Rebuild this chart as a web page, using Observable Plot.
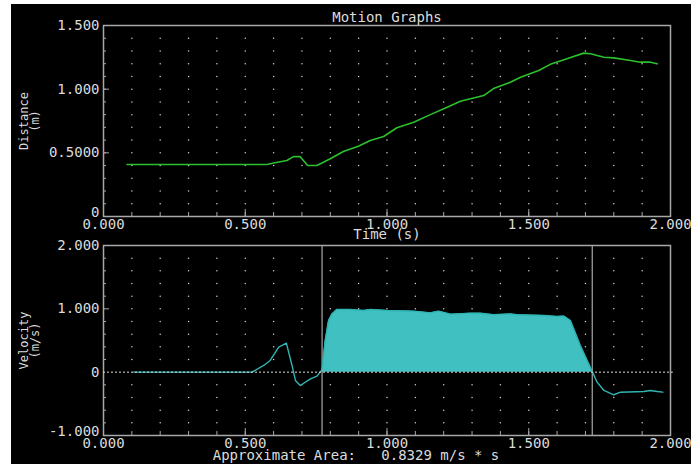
<!DOCTYPE html>
<html>
<head>
<meta charset="utf-8">
<script src="https://cdn.jsdelivr.net/npm/d3@7"></script>
<script src="https://cdn.jsdelivr.net/npm/@observablehq/plot@0.6"></script>
<style>
  body { margin: 0; background: #fff; }
  #wrap { position: relative; width: 691px; height: 464px; background: #fff; overflow: hidden; }
  #bg { position: absolute; left: 11px; top: 4px; width: 680px; height: 460px; background: #000; }
  #top, #bottom { position: absolute; left: 0; }
  #top { top: 0; }
  #bottom { top: 240px; }
</style>
</head>
<body>
<div id="wrap">
  <div id="bg"></div>
  <div id="top"></div>
  <div id="bottom"></div>
</div>
<script>
// ---- data ----
const distTime  = [0.083, 0.577, 0.600, 0.647, 0.670, 0.694, 0.720, 0.753, 0.800, 0.846, 0.899, 0.941, 0.988, 1.035, 1.094, 1.153, 1.212, 1.259, 1.341, 1.376, 1.435, 1.471, 1.535, 1.576, 1.635, 1.694, 1.718, 1.765, 1.800, 1.859, 1.894, 1.929, 1.953];
const distValue = [0.408, 0.408, 0.420, 0.440, 0.470, 0.470, 0.400, 0.400, 0.453, 0.510, 0.552, 0.597, 0.628, 0.697, 0.740, 0.800, 0.858, 0.905, 0.950, 1.005, 1.055, 1.094, 1.147, 1.195, 1.238, 1.283, 1.278, 1.251, 1.246, 1.225, 1.212, 1.212, 1.199];

const velTime  = [0.105, 0.524, 0.565, 0.588, 0.618, 0.645, 0.665, 0.677, 0.694, 0.730, 0.753, 0.771, 0.782, 0.794, 0.806, 0.823, 0.870, 0.918, 0.941, 1.000, 1.094, 1.153, 1.182, 1.224, 1.247, 1.294, 1.330, 1.376, 1.435, 1.459, 1.553, 1.600, 1.624, 1.647, 1.682, 1.724, 1.741, 1.765, 1.800, 1.824, 1.906, 1.929, 1.953, 1.973];
const velValue = [0, 0, 0.106, 0.185, 0.395, 0.458, 0.106, -0.131, -0.210, -0.105, -0.063, 0.040, 0.500, 0.816, 0.920, 0.990, 0.990, 0.974, 0.990, 0.974, 0.963, 0.937, 0.963, 0.916, 0.920, 0.932, 0.930, 0.906, 0.920, 0.906, 0.895, 0.879, 0.885, 0.816, 0.420, 0.010, -0.158, -0.289, -0.357, -0.316, -0.305, -0.289, -0.305, -0.316];

const areaStart = 0.771;
const areaEnd = 1.724;
const areaText = "Approximate Area:   0.8329 m/s * s";

const xTicks = [0, 0.5, 1, 1.5, 2];
const xTickLabels = ["0.000", "0.500", "1.000", "1.500", "2.000"];
const distTicks = [0, 0.5, 1, 1.5];
const distTickLabels = ["0", "0.5000", "1.000", "1.500"];
const velTicks = [-1, 0, 1, 2];
const velTickLabels = ["-1.000", "0", "1.000", "2.000"];

const title = "Motion Graphs";
const xTitle = "Time (s)";
const distTitle = ["Distance", "(m)"];
const velTitle = ["Velocity", "(m/s)"];

// ---- styling ----
const TEXT = "#dcdcdc";
const FRAME = "#a8a8a8";
const GREEN = "#2cc02c";
const TEAL_FILL = "#40c0c0";
const TEAL_LINE = "#30b4b4";
const FONT = "DejaVu Sans Mono";

const W = 691, ML = 103, MR = 21;
const frameW = W - ML - MR;

const dist = distTime.map((t, i) => ({t, v: distValue[i]}));
const vel = velTime.map((t, i) => ({t, v: velValue[i]}));
const velArea = vel.filter(d => d.t >= areaStart && d.t <= areaEnd);

const r1 = (x) => Math.round(x * 10) / 10;
const xMinor = d3.range(1, 20).map(k => r1(k / 10));
const xMajorInner = [0.5, 1, 1.5];

function ticksLayer(yMinor, yMajor, frameH) {
  return [
    Plot.tickX(xMinor, {x: d => d, stroke: FRAME, insetTop: frameH - 4}),
    Plot.tickX(xMajorInner, {x: d => d, stroke: FRAME, insetTop: frameH - 7}),
    Plot.tickY(yMinor, {y: d => d, stroke: FRAME, insetRight: frameW - 3}),
    Plot.tickY(yMajor, {y: d => d, stroke: FRAME, insetRight: frameW - 6})
  ];
}

const txt = (extra) => Object.assign({text: d => d, fill: TEXT, fontFamily: FONT, lineAnchor: "middle", textAnchor: "middle"}, extra);

// ---- top plot ----
const topH = 240, topMT = 25, topMB = 24;
const topFrameH = topH - topMT - topMB;
const dMinor = d3.range(1, 15).map(k => r1(k / 10));
const dGrid = xMinor.flatMap(x => dMinor.map(y => ({x, y})));

const topPlot = Plot.plot({
  width: W, height: topH,
  marginLeft: ML, marginRight: MR, marginTop: topMT, marginBottom: topMB,
  style: {background: "transparent", color: TEXT, fontFamily: FONT, fontSize: "14px", overflow: "visible"},
  x: {domain: [0, 2]},
  y: {domain: [0, 1.5]},
  marks: [
    Plot.dot(dGrid, {x: "x", y: "y", r: 0.75, fill: "#cfcfcf", stroke: null}),
    ...ticksLayer(dMinor, [0.5, 1], topFrameH),
    Plot.frame({stroke: FRAME, strokeWidth: 1.5}),
    Plot.line(dist, {x: "t", y: "v", stroke: GREEN, strokeWidth: 1.6}),
    Plot.axisX(xTicks, {tickSize: 0, tickPadding: 3, tickFormat: d => xTickLabels[xTicks.indexOf(d)], label: null, fill: TEXT}),
    Plot.axisY(distTicks.slice(1), {tickSize: 0, tickPadding: 4, tickFormat: d => distTickLabels[distTicks.indexOf(d)], label: null, fill: TEXT}),
    Plot.axisY([distTicks[0]], {tickSize: 0, tickPadding: 4, dy: -4, tickFormat: d => distTickLabels[distTicks.indexOf(d)], label: null, fill: TEXT}),
    Plot.text([title], txt({frameAnchor: "top", dy: -8, fontSize: 14})),
    Plot.text([xTitle], txt({frameAnchor: "bottom", dy: 18, fontSize: 14})),
    Plot.text([distTitle[0]], txt({frameAnchor: "left", dx: -79, rotate: -90, fontSize: 12})),
    Plot.text([distTitle[1]], txt({frameAnchor: "left", dx: -68, rotate: -90, fontSize: 12}))
  ]
});
document.getElementById("top").append(topPlot);

// ---- bottom plot ----
const botH = 224, botMT = 5, botMB = 29;
const botFrameH = botH - botMT - botMB;
const vMinor = d3.range(-4, 10).map(k => r1(k * 0.2)).filter(v => v !== 0 && v !== 1);
const vGridY = d3.range(-4, 10).map(k => r1(k * 0.2)).filter(v => v !== 0);
const vGrid = xMinor.flatMap(x => vGridY.map(y => ({x, y})));

const botPlot = Plot.plot({
  width: W, height: botH,
  marginLeft: ML, marginRight: MR, marginTop: botMT, marginBottom: botMB,
  style: {background: "transparent", color: TEXT, fontFamily: FONT, fontSize: "14px", overflow: "visible"},
  x: {domain: [0, 2]},
  y: {domain: [-1, 2]},
  marks: [
    Plot.dot(vGrid, {x: "x", y: "y", r: 0.75, fill: "#cfcfcf", stroke: null}),
    ...ticksLayer(vMinor, [1], botFrameH),
    Plot.areaY(velArea, {x: "t", y: "v", fill: TEAL_FILL}),
    Plot.ruleX([areaStart, areaEnd], {stroke: FRAME, strokeWidth: 1.2}),
    Plot.frame({stroke: FRAME, strokeWidth: 1.5}),
    Plot.line(vel, {x: "t", y: "v", stroke: TEAL_LINE, strokeWidth: 1.4}),
    Plot.ruleY([0], {x1: 0, x2: 2.01, stroke: "#e0e0e0", strokeDasharray: "2,2", strokeWidth: 1}),
    Plot.axisX(xTicks, {tickSize: 0, tickPadding: 3, tickFormat: d => xTickLabels[xTicks.indexOf(d)], label: null, fill: TEXT}),
    Plot.axisY(velTicks.slice(1), {tickSize: 0, tickPadding: 4, tickFormat: d => velTickLabels[velTicks.indexOf(d)], label: null, fill: TEXT}),
    Plot.axisY([velTicks[0]], {tickSize: 0, tickPadding: 4, dy: -4, tickFormat: d => velTickLabels[velTicks.indexOf(d)], label: null, fill: TEXT}),
    Plot.text([areaText], txt({frameAnchor: "bottom", dx: -31, dy: 20, fontSize: 14})),
    Plot.text([velTitle[0]], txt({frameAnchor: "left", dx: -79, rotate: -90, fontSize: 12})),
    Plot.text([velTitle[1]], txt({frameAnchor: "left", dx: -68, rotate: -90, fontSize: 12}))
  ]
});
document.getElementById("bottom").append(botPlot);
</script>
</body>
</html>
